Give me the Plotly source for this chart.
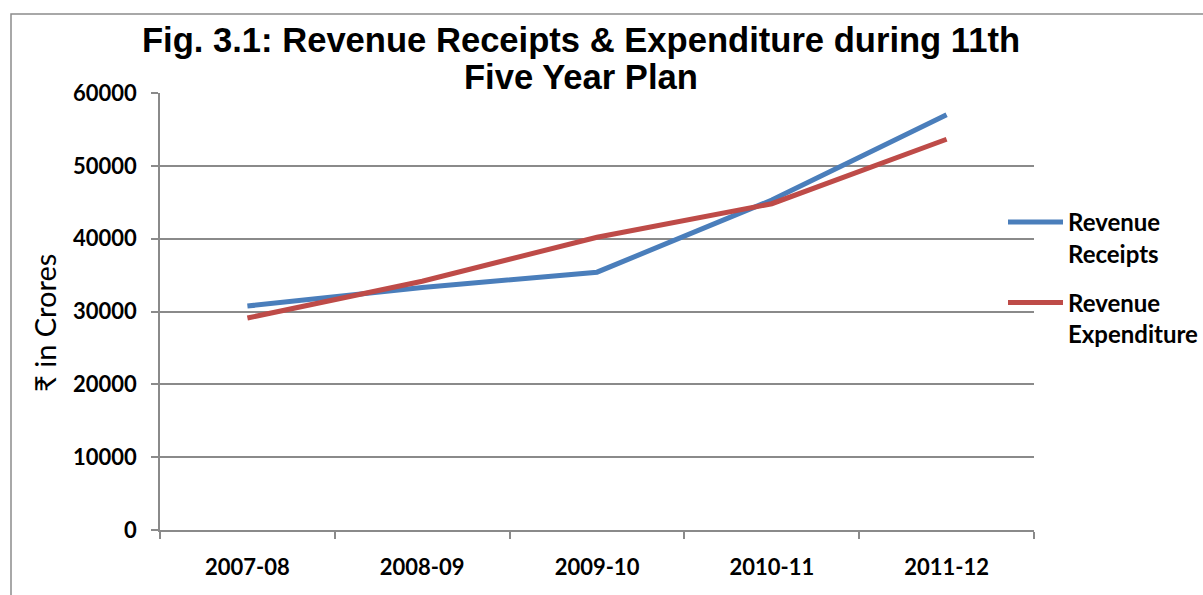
import plotly.graph_objects as go

years = ["2007-08", "2008-09", "2009-10", "2010-11", "2011-12"]
revenue_receipts = [30750, 33300, 35400, 45300, 57000]
revenue_expenditure = [29100, 34150, 40200, 44800, 53650]

BLUE = "#4A7EBB"
RED = "#BE4B48"
GRID = "#8a8a8a"
FONT = "Lato, 'Noto Sans', sans-serif"
TFONT = "'Liberation Sans', Arial, sans-serif"

L, R, T, B = 160, 1034, 93, 530
PW, PH = R - L, B - T

def px(x):
    return (x - L) / PW

def py(y):
    return (B - y) / PH

fig = go.Figure()
fig.add_trace(go.Scatter(x=years, y=revenue_receipts, mode="lines",
                         name="Revenue<br>Receipts", legendgroup="rr",
                         line=dict(color=BLUE, width=5)))
fig.add_trace(go.Scatter(x=years, y=revenue_expenditure, mode="lines",
                         name="Revenue<br>Expenditure", legendgroup="re",
                         line=dict(color=RED, width=5)))

fig.update_layout(
    width=1203, height=595,
    margin=dict(l=L, r=1203 - R, t=T, b=595 - B, autoexpand=False),
    plot_bgcolor="white", paper_bgcolor="white",
    title=dict(text="Fig. 3.1: Revenue Receipts & Expenditure during 11th",
               x=581/1203, xanchor="center", xref="container",
               y=1-40/595, yanchor="middle", yref="container",
               font=dict(family=TFONT, size=34.6, color="black", weight="bold")),
    showlegend=True,
    legend=dict(x=px(1003), xanchor="left", y=py(200), yanchor="top",
                font=dict(family=FONT, size=24, color="black", weight="bold"),
                itemwidth=55, tracegroupgap=15, valign="top",
                bgcolor="rgba(0,0,0,0)"),
    xaxis=dict(type="category", range=[-0.5, 4.5], showgrid=False, automargin=False,
               showline=True, linecolor=GRID, linewidth=1.5,
               ticks="outside", tickson="boundaries", ticklen=7, tickwidth=1.5,
               tickcolor=GRID, ticklabelstandoff=17,
               tickfont=dict(family=FONT, size=22, color="black", weight="bold")),
    yaxis=dict(range=[0, 60000], dtick=10000, tickformat="d", automargin=False,
               showgrid=True, gridcolor=GRID,
               gridwidth=1.5, zeroline=False,
               showline=True, linecolor=GRID, linewidth=1.5,
               ticks="outside", ticklen=7, tickwidth=1.5, tickcolor=GRID,
               ticklabelstandoff=10,
               tickfont=dict(family=FONT, size=22, color="black", weight="bold")),
)

fig.add_annotation(text="Five Year Plan", xref="paper", yref="paper",
                   x=px(581), y=py(77), xanchor="center", yanchor="middle",
                   showarrow=False,
                   font=dict(family=TFONT, size=34.6, color="black", weight="bold"))

fig.add_annotation(text="₹ in Crores", xref="paper", yref="paper",
                   x=px(44), y=py(323), xanchor="center", yanchor="middle",
                   textangle=-90, showarrow=False,
                   font=dict(family=FONT, size=29, color="black"))

fig.add_shape(type="rect", xref="paper", yref="paper",
              x0=px(11), x1=1.4, y0=-0.3, y1=py(14),
              line=dict(color="#8c8c8c", width=1.5), fillcolor="rgba(0,0,0,0)",
              layer="below")

fig.write_html("out.html", config={"displayModeBar": False},
               post_script="document.body.style.margin='0';document.body.style.padding='0';")
